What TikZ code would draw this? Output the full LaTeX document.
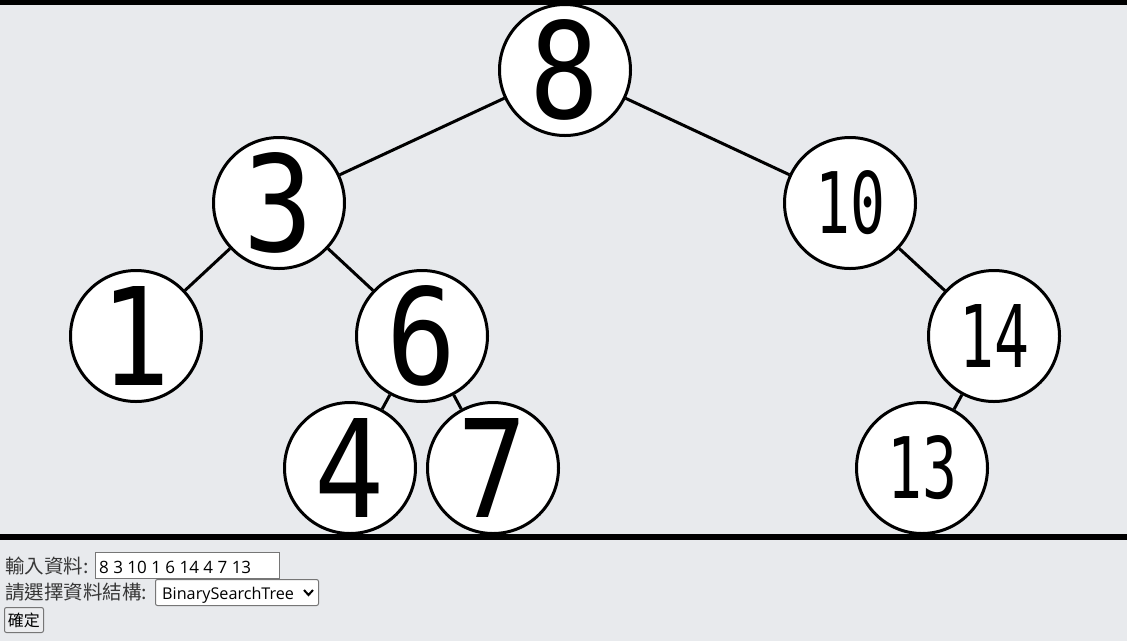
\documentclass[tikz,border=0pt]{standalone}
\usepackage{fontspec}
\usepackage{graphicx}
\newfontfamily\cjkfont{Noto Sans CJK TC}
\newfontfamily\digitfont{DejaVu Sans Mono}
\newfontfamily\uifont{Open Sans}
\definecolor{pagebg}{RGB}{232,234,237}
\definecolor{lblcol}{RGB}{55,55,55}
\definecolor{boxborder}{RGB}{118,118,118}
\definecolor{btnbg}{RGB}{236,237,239}
\newcommand\sdig[1]{\resizebox{70pt}{99pt}{\digitfont #1}\hspace{10pt}}
\newcommand\ddig[1]{\resizebox{70pt}{63pt}{\digitfont #1}\hspace{6pt}}
\begin{document}
\begin{tikzpicture}[x=1pt,y=-1pt,
  tnode/.style={circle, draw=black, fill=white, line width=3pt, minimum size=131pt, inner sep=0pt},
  tedge/.style={line width=3pt, black},
  lbl/.style={anchor=west, inner sep=0pt, text=lblcol, font=\cjkfont\fontsize{19.5}{22}\selectfont},
  field/.style={draw=boxborder, fill=white, line width=1pt, anchor=north west, inner sep=0pt},
  fieldtext/.style={anchor=base west, inner sep=0pt, text=black, font=\uifont\fontsize{17}{20}\selectfont}]
\useasboundingbox (0,0) rectangle (1127,641);
\fill[pagebg] (0,0) rectangle (1127,641);
\begin{scope}
  \clip (0,0) rectangle (1127,537);
  \node[tnode] (n8)  at (565,70)  {\sdig{8}};
  \node[tnode] (n3)  at (279,203) {\sdig{3}};
  \node[tnode] (n10) at (850,203) {\ddig{10}};
  \node[tnode] (n1)  at (136,336) {\sdig{1}};
  \node[tnode] (n6)  at (422,336) {\sdig{6}};
  \node[tnode] (n14) at (994,336) {\ddig{14}};
  \node[tnode] (n4)  at (350,468) {\sdig{4}};
  \node[tnode] (n7)  at (493,468) {\sdig{7}};
  \node[tnode] (n13) at (922,468) {\ddig{13}};
  \draw[tedge] (n8) -- (n3);
  \draw[tedge] (n8) -- (n10);
  \draw[tedge] (n3) -- (n1);
  \draw[tedge] (n3) -- (n6);
  \draw[tedge] (n6) -- (n4);
  \draw[tedge] (n6) -- (n7);
  \draw[tedge] (n10) -- (n14);
  \draw[tedge] (n14) -- (n13);
\end{scope}
\fill[black] (0,0) rectangle (1127,5);
\fill[black] (0,534) rectangle (1127,540);
% form
\node[lbl] (lbl1) at (5,566.5) {輸入資料:};
\node[field, minimum width=184pt, minimum height=26pt] (inbox) at (95,552) {};
\node[fieldtext] (intext) at (99,573) {8 3 10 1 6 14 4 7 13};
\node[lbl] (lbl2) at (5,592.5) {請選擇資料結構:};
\node[field, rounded corners=2pt, minimum width=163pt, minimum height=26pt] (sel) at (155,579) {};
\node[fieldtext, font=\uifont\fontsize{16.2}{19}\selectfont] (seltext) at (162,599) {BinarySearchTree};
\draw[line width=2pt, black] (sel.east) ++(-15,-2.5) coordinate (chevA) -- ++(4.5,5) -- ++(4.5,-5);
\node[draw=boxborder, fill=btnbg, line width=1pt, rounded corners=2pt, minimum width=39pt, minimum height=25pt, anchor=north west, inner sep=0pt, font=\cjkfont\fontsize{16}{18}\selectfont] (btn) at (4,607) {確定};
\end{tikzpicture}
\end{document}
